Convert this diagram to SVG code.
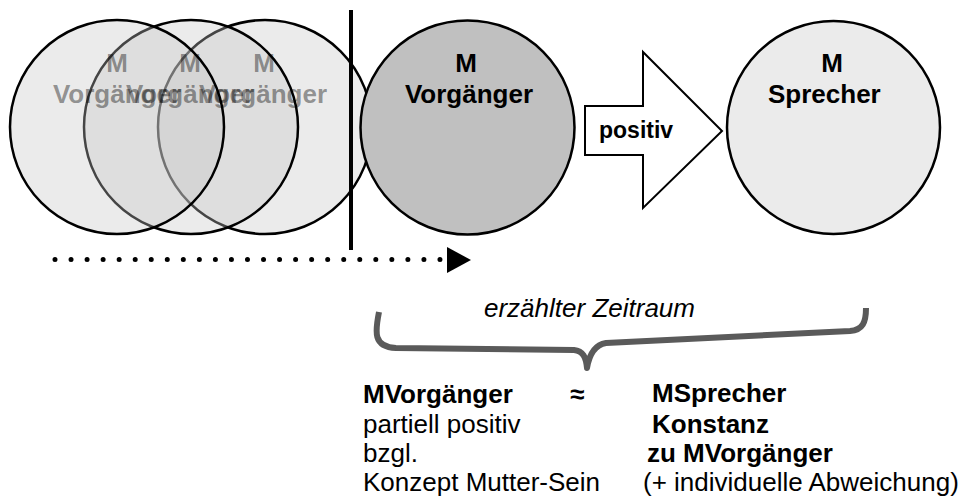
<svg xmlns="http://www.w3.org/2000/svg" width="972" height="503" viewBox="0 0 972 503">
  <style>
    .t { font-family: "Liberation Sans", Arial, Helvetica, sans-serif; font-size: 26px; fill: #000; }
    .b { font-weight: bold; }
    .ghost { font-family: "Liberation Sans", Arial, Helvetica, sans-serif; font-size: 26px; font-weight: bold; fill: #000; fill-opacity: 0.4; text-anchor: middle; }
    .pc { fill: #c5c5c5; fill-opacity: 0.35; stroke: #000; stroke-width: 2.5; }
    .node { stroke: #000; stroke-width: 2.5; }
  </style>
  <rect width="972" height="503" fill="#fff"/>

  <!-- earlier mothers (overlapping, drawn back to front) -->
  <g id="vorgaenger-3">
    <circle class="pc" cx="265" cy="127" r="107"/>
  </g>
  <g id="vorgaenger-2">
    <circle class="pc" cx="191" cy="127" r="107"/>
  </g>
  <g id="vorgaenger-1">
    <circle class="pc" cx="117" cy="127" r="107"/>
  </g>
  <g id="vorgaenger-labels">
    <text class="ghost" x="117" y="72">M</text>
    <text class="ghost" x="117" y="103">Vorgänger</text>
    <text class="ghost" x="190" y="72">M</text>
    <text class="ghost" x="190" y="103">Vorgänger</text>
    <text class="ghost" x="264" y="72">M</text>
    <text class="ghost" x="263" y="103">Vorgänger</text>
  </g>

  <g id="vorgaenger-main">
    <circle class="node" cx="467.5" cy="127.5" r="107" fill="#c0c0c0"/>
    <text class="t b" x="466" y="72" text-anchor="middle">M</text>
    <text class="t b" x="469" y="103" text-anchor="middle">Vorgänger</text>
  </g>

  <g id="sprecher">
    <circle class="node" cx="833.5" cy="127.5" r="106.5" fill="#ebebeb"/>
    <text class="t b" x="832" y="72" text-anchor="middle">M</text>
    <text class="t b" x="768" y="103">Sprecher</text>
  </g>

  <g id="connectors">
    <!-- time cut line -->
    <line x1="351" y1="10" x2="351" y2="250" stroke="#000" stroke-width="4"/>
    <!-- dotted time arrow -->
    <line x1="55" y1="259.5" x2="441" y2="259.5" stroke="#000" stroke-width="5" stroke-linecap="round" stroke-dasharray="0 16.04"/>
    <polygon points="447,247 471,260 447,273" fill="#000"/>
    <!-- block arrow "positiv" -->
    <polygon points="585,106 643,106 643,52 722,131 643,208 643,155 585,155" fill="#fff" stroke="#000" stroke-width="2"/>
    <text class="t b" x="599" y="138" style="font-size:23px">positiv</text>
    <!-- brace -->
    <path d="M 379 312 C 375 332, 373 347, 396 348 L 574 350 C 583 351, 586 357, 587 368 C 589 356, 594 345, 606 343 L 850 331 C 863 330, 866 322, 866 308" fill="none" stroke="#5a5a5a" stroke-width="6" stroke-linejoin="round"/>
  </g>

  <g id="zeitraum">
    <text class="t" x="484" y="317" font-style="italic">erzählter Zeitraum</text>
  </g>

  <g id="bottom-text">
    <text class="t b" x="363" y="403">MVorgänger</text>
    <text class="t b" x="570" y="403">≈</text>
    <text class="t" x="363" y="433">partiell positiv</text>
    <text class="t" x="363" y="462">bzgl.</text>
    <text class="t" x="363" y="491">Konzept Mutter-Sein</text>
    <text class="t b" x="652" y="402">MSprecher</text>
    <text class="t b" x="652" y="433">Konstanz</text>
    <text class="t b" x="647" y="462">zu MVorgänger</text>
    <text class="t" x="643" y="491">(+ individuelle Abweichung)</text>
  </g>
</svg>
